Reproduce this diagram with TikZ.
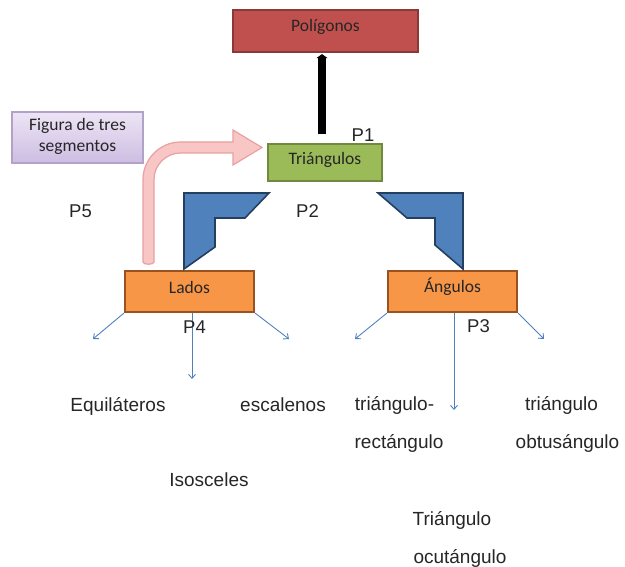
\documentclass[tikz,border=0pt]{standalone}
\usepackage{fontspec}
\setmainfont{Liberation Sans}
\newfontfamily\calib{Carlito}
\usetikzlibrary{arrows.meta}
\definecolor{polfill}{HTML}{C0504D}
\definecolor{poldraw}{HTML}{8C3836}
\definecolor{trifill}{HTML}{9BBB59}
\definecolor{tridraw}{HTML}{71893F}
\definecolor{orfill}{HTML}{F79646}
\definecolor{ordraw}{HTML}{9A5220}
\definecolor{blfill}{HTML}{4F81BD}
\definecolor{bldraw}{HTML}{243F60}
\definecolor{pinkfill}{HTML}{F9C6C6}
\definecolor{pinkdraw}{HTML}{E8A0A0}
\definecolor{purtop}{HTML}{EDE5F5}
\definecolor{purbot}{HTML}{CDBDE2}
\definecolor{purdraw}{HTML}{B3A2C7}
\definecolor{txtc}{HTML}{262626}
\tikzset{
  boxnode/.style={draw, line width=2.2pt, inner sep=0pt},
  boxtxt/.style={font=\calib\fontsize{17.5}{20}\selectfont, text=txtc, inner sep=0pt},
  txt/.style={font=\fontsize{19}{22}\selectfont, text=txtc, inner sep=0pt, anchor=base},
  plab/.style={font=\fontsize{18.5}{22}\selectfont, text=txtc, inner sep=0pt, anchor=base},
  thinarrow/.style={draw=blfill, line width=0.9pt, -{Straight Barb[length=4pt,width=7pt]}},
  bentshape/.style={fill=blfill, draw=bldraw, line width=1.6pt, line join=miter}
}
\begin{document}
\begin{tikzpicture}[x=1pt,y=-1pt]
\useasboundingbox (0,0) rectangle (625,567);
% boxes
\node[boxnode, fill=polfill, draw=poldraw, minimum width=185pt, minimum height=42pt] (pol) at (325.5,31) {};
\node[boxtxt] (poltxt) at (325.5,27) {Polígonos};
\node[boxnode, fill=trifill, draw=tridraw, minimum width=114pt, minimum height=37pt] (tri) at (325,162.5) {};
\node[boxtxt] (tritxt) at (325,160) {Triángulos};
\node[boxnode, fill=orfill, draw=ordraw, minimum width=129pt, minimum height=41pt] (lad) at (189.5,291.5) {};
\node[boxtxt] (ladtxt) at (189.5,287) {Lados};
\node[boxnode, fill=orfill, draw=ordraw, minimum width=129pt, minimum height=41pt] (ang) at (452.5,291.5) {};
\node[boxtxt] (angtxt) at (452.5,287) {Ángulos};
\node[draw=purdraw, line width=1.6pt, top color=purtop, bottom color=purbot, minimum width=131pt, minimum height=51pt, inner sep=0pt] (fig) at (77.5,137.5) {};
\node[boxtxt, align=center, font=\calib\fontsize{17.5}{21}\selectfont] (figtxt) at (77.5,136) {Figura de tres\\segmentos};
% black connector
\draw[line width=8pt, shorten <=9pt, shorten >=1pt, -{Triangle[length=4pt,width=11pt]}] (322,0 |- tri.north) -- (322,0 |- pol.south);
% pink bent arrow
\path[fill=pinkfill, draw=pinkdraw, line width=1.2pt, line join=miter]
  (143,262) -- (143,179.5) .. controls (143,159) and (160,142) .. (180.5,142)
  -- (233,142) -- (233,130) -- (262,147.5) -- (233,165) -- (233,153) -- (180.5,153)
  .. controls (166,153) and (154,165) .. (154,179.5) -- (154,262) .. controls (154,265) and (143,265) .. (143,262) -- cycle;
\coordinate (pinkstart) at (148.5,262);
% blue bent shapes
\draw[bentshape] (184,193) -- (269,193) -- (245,218) -- (215,218) -- (215,247) -- (184,269) -- cycle;
\draw[bentshape] (378,193) -- (463,193) -- (463,269) -- (435,245) -- (435,218) -- (407,218) -- cycle;
% text leaves
\node[txt] (equi) at (118,411) {Equiláteros};
\node[txt] (esca) at (283,411) {escalenos};
\node[txt] (isos) at (209,486) {Isosceles};
\node[txt] (trir1) at (394.5,410) {triángulo-};
\node[txt] (trir2) at (399,448) {rectángulo};
\node[txt] (trio1) at (561.5,410) {triángulo};
\node[txt] (trio2) at (567.5,448) {obtusángulo};
\node[txt] (trioc1) at (452,525) {Triángulo};
\node[txt] (trioc2) at (460,563) {ocutángulo};
% thin arrows
\coordinate (la) at (93,339);
\coordinate (lb) at (192,379);
\coordinate (lc) at (289,339);
\coordinate (aa) at (355,339);
\coordinate (ab) at (454,410);
\coordinate (ac) at (544,339);
\draw[thinarrow] (lad.south west) -- (la);
\draw[thinarrow] (192,0 |- lad.south) -- (lb);
\draw[thinarrow] (lad.south east) -- (lc);
\draw[thinarrow] (ang.south west) -- (aa);
\draw[thinarrow] (454,0 |- ang.south) -- (ab);
\draw[thinarrow] (ang.south east) -- (ac);
% P labels
\node[plab] (p1) at (363,142) {P1};
\node[plab] (p2) at (307.5,218) {P2};
\node[plab] (p3) at (478.5,333) {P3};
\node[plab] (p4) at (194.5,334) {P4};
\node[plab] (p5) at (80.5,218) {P5};
\end{tikzpicture}
\end{document}
